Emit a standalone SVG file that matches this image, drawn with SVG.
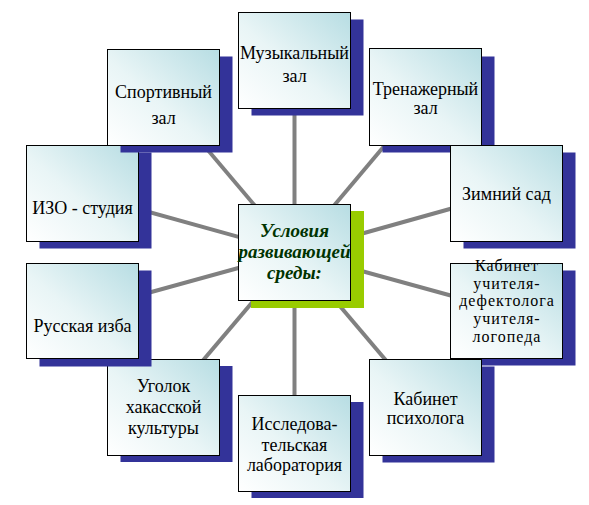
<svg xmlns="http://www.w3.org/2000/svg" width="589" height="505" viewBox="0 0 589 505" font-family="Liberation Serif">
<defs>
<linearGradient id="g" x1="1" y1="0" x2="0" y2="1">
<stop offset="0" stop-color="#b7dde3"/>
<stop offset="0.55" stop-color="#e9f5f6"/>
<stop offset="1" stop-color="#ffffff"/>
</linearGradient>
<style>
.sh{fill:#333399}
.bx{fill:url(#g);stroke:#000;stroke-width:1}
.ln{stroke:#808080;stroke-width:4;fill:none}
</style>
</defs>
<rect width="589" height="505" fill="#fff"/>
<g id="connectors">
<line class="ln" x1="294.5" y1="252.5" x2="294.5" y2="60"/>
<line class="ln" x1="294.5" y1="252.5" x2="163" y2="97"/>
<line class="ln" x1="294.5" y1="252.5" x2="425.5" y2="97"/>
<line class="ln" x1="294.5" y1="252.5" x2="507" y2="193"/>
<line class="ln" x1="294.5" y1="252.5" x2="507" y2="311"/>
<line class="ln" x1="294.5" y1="252.5" x2="425.5" y2="407"/>
<line class="ln" x1="294.5" y1="252.5" x2="294.5" y2="443"/>
<line class="ln" x1="294.5" y1="252.5" x2="163.5" y2="407"/>
<line class="ln" x1="294.5" y1="252.5" x2="82.5" y2="311"/>
<line class="ln" x1="294.5" y1="252.5" x2="82.5" y2="193.5"/>
</g>
<g id="izo">
<rect class="sh" x="39.5" y="152.5" width="112" height="96"/>
<rect class="bx" x="26.5" y="145.5" width="112" height="96"/>
<text x="82.5" y="214" font-family="Liberation Serif" font-size="18" text-anchor="middle">ИЗО - студия</text>
</g>
<g id="sport">
<rect class="sh" x="120.5" y="56.5" width="112" height="96"/>
<rect class="bx" x="107.5" y="49.5" width="112" height="96"/>
<text x="163.5" y="98" font-family="Liberation Serif" font-size="18" text-anchor="middle">Спортивный</text>
<text x="163.5" y="124" font-family="Liberation Serif" font-size="18" text-anchor="middle">зал</text>
</g>
<g id="ugolok">
<rect class="sh" x="120.5" y="366" width="112" height="96"/>
<rect class="bx" x="107.5" y="359.5" width="112" height="96"/>
<text x="163.5" y="392" font-family="Liberation Serif" font-size="18" text-anchor="middle">Уголок</text>
<text x="163.5" y="413" font-family="Liberation Serif" font-size="18" text-anchor="middle">хакасской</text>
<text x="163.5" y="433.5" font-family="Liberation Serif" font-size="18" text-anchor="middle">культуры</text>
</g>
<g id="russkaya">
<rect class="sh" x="39.5" y="270.5" width="112" height="96"/>
<rect class="bx" x="26.5" y="263.5" width="112" height="95"/>
<text x="82.5" y="332" font-family="Liberation Serif" font-size="18" text-anchor="middle">Русская изба</text>
</g>
<g id="trenazh">
<rect class="sh" x="382.5" y="56.5" width="112" height="96"/>
<rect class="bx" x="369.5" y="48.5" width="112" height="97"/>
<text x="425.5" y="94.5" font-family="Liberation Serif" font-size="18" text-anchor="middle">Тренажерный</text>
<text x="425.5" y="114" font-family="Liberation Serif" font-size="18" text-anchor="middle">зал</text>
</g>
<g id="zimniy">
<rect class="sh" x="463.5" y="152.5" width="112" height="96"/>
<rect class="bx" x="450.5" y="145.5" width="112" height="96"/>
<text x="506.5" y="200" font-family="Liberation Serif" font-size="18" text-anchor="middle">Зимний сад</text>
</g>
<g id="teacher">
<rect class="sh" x="463.5" y="270.5" width="112" height="95"/>
<rect class="bx" x="450.5" y="263.5" width="112" height="95"/>
<text x="507" y="270.5" font-family="Liberation Serif" font-size="16" letter-spacing="1" text-anchor="middle">Кабинет</text>
<text x="507" y="288.5" font-family="Liberation Serif" font-size="16" letter-spacing="1" text-anchor="middle">учителя-</text>
<text x="507" y="306" font-family="Liberation Serif" font-size="16" letter-spacing="1" text-anchor="middle">дефектолога</text>
<text x="507" y="324" font-family="Liberation Serif" font-size="16" letter-spacing="1" text-anchor="middle">учителя-</text>
<text x="507" y="342" font-family="Liberation Serif" font-size="16" letter-spacing="1" text-anchor="middle">логопеда</text>
</g>
<g id="psych">
<rect class="sh" x="382.5" y="366.5" width="112" height="96"/>
<rect class="bx" x="369.5" y="359.5" width="112" height="96"/>
<text x="425.5" y="405" font-family="Liberation Serif" font-size="18" text-anchor="middle">Кабинет</text>
<text x="425.5" y="424" font-family="Liberation Serif" font-size="18" text-anchor="middle">психолога</text>
</g>
<g id="music">
<rect class="sh" x="251.5" y="19.5" width="112" height="96"/>
<rect class="bx" x="238.5" y="12.5" width="112" height="96"/>
<text x="294.5" y="58.5" font-family="Liberation Serif" font-size="18" text-anchor="middle">Музыкальный</text>
<text x="294.5" y="82" font-family="Liberation Serif" font-size="18" text-anchor="middle">зал</text>
</g>
<g id="issled">
<rect class="sh" x="251.5" y="402" width="112" height="96"/>
<rect class="bx" x="238.5" y="395.5" width="112" height="96"/>
<text x="294.5" y="430" font-family="Liberation Serif" font-size="18" text-anchor="middle">Исследова-</text>
<text x="294.5" y="451" font-family="Liberation Serif" font-size="18" text-anchor="middle">тельская</text>
<text x="294.5" y="470.5" font-family="Liberation Serif" font-size="18" text-anchor="middle">лаборатория</text>
</g>
<g id="center">
<rect fill="#99cc00" x="251" y="211" width="113" height="97"/>
<rect class="bx" x="238.5" y="204.5" width="112" height="96"/>
<text x="294.5" y="237" font-family="Liberation Serif" font-size="19" font-weight="bold" font-style="italic" fill="#003300" text-anchor="middle">Условия</text>
<text x="294.5" y="258" font-family="Liberation Serif" font-size="19" font-weight="bold" font-style="italic" fill="#003300" text-anchor="middle">развивающей</text>
<text x="294.5" y="279" font-family="Liberation Serif" font-size="19" font-weight="bold" font-style="italic" fill="#003300" text-anchor="middle">среды:</text>
</g>
</svg>
